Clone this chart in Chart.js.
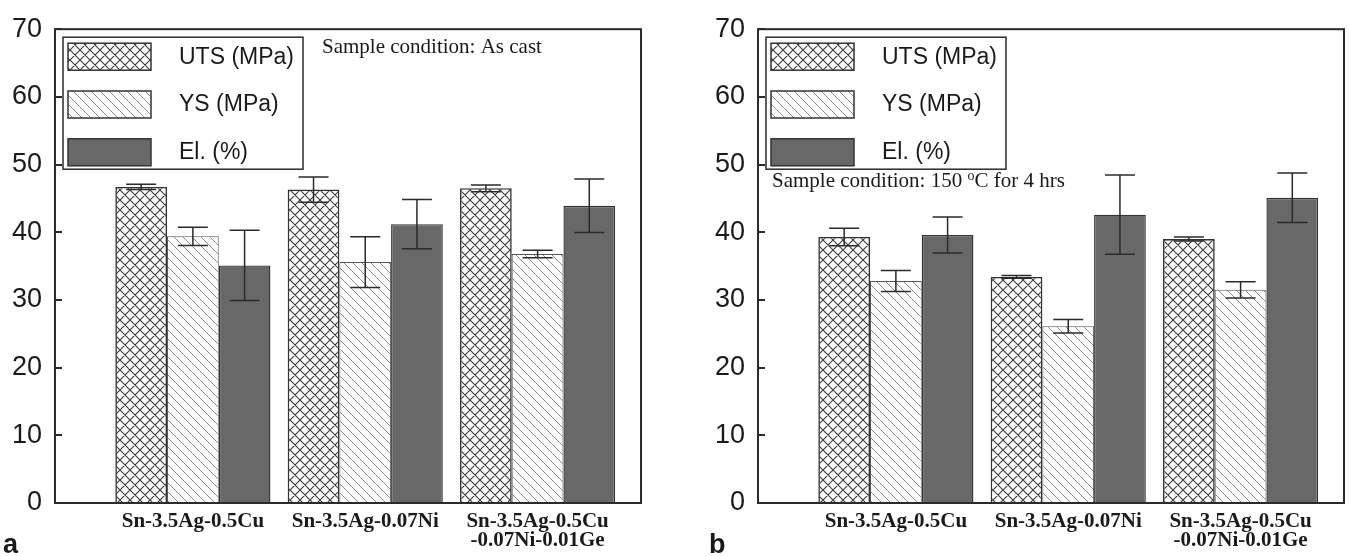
<!DOCTYPE html>
<html>
<head>
<meta charset="utf-8">
<script src="https://cdn.jsdelivr.net/npm/chart.js@4.4.0/dist/chart.umd.min.js"></script>
<style>
  body { margin: 0; background: #fff; }
  #wrap { position: relative; width: 1349px; height: 556px; overflow: hidden; }
  #chartA { position: absolute; left: 0; top: 0; }
  #chartB { position: absolute; left: 703px; top: 0; }
</style>
</head>
<body>
<div id="wrap">
  <canvas id="chartA" width="703" height="556"></canvas>
  <canvas id="chartB" width="646" height="556"></canvas>
</div>
<script>
// Alloys on the x axis (last one wraps onto two lines)
const categories = ['Sn-3.5Ag-0.5Cu', 'Sn-3.5Ag-0.07Ni', ['Sn-3.5Ag-0.5Cu', '-0.07Ni-0.01Ge']];
const seriesNames = ['UTS (MPa)', 'YS (MPa)', 'El. (%)'];
const yTicks = [0, 10, 20, 30, 40, 50, 60, 70];

// (a) as cast
const utsCast = [46.7, 46.3, 46.5];
const utsCastErr = [0.4, 1.85, 0.5];
const ysCast = [39.4, 35.6, 36.8];
const ysCastErr = [1.35, 3.75, 0.55];
const elCast = [35.1, 41.2, 43.9];
const elCastErr = [5.2, 3.65, 3.95];

// (b) 150 C for 4 hrs
const utsAged = [39.3, 33.4, 39.0];
const utsAgedErr = [1.3, 0.2, 0.3];
const ysAged = [32.8, 26.1, 31.5];
const ysAgedErr = [1.55, 1.0, 1.2];
const elAged = [39.6, 42.6, 45.1];
const elAgedErr = [2.65, 5.85, 3.65];

const conditionA = [['Sample condition: As cast', false]];
const conditionB = [['Sample condition: 150 ', false], ['o', true], ['C for 4 hrs', false]];

const SANS = '"Liberation Sans", Arial, Helvetica, sans-serif';
const SERIF = '"Liberation Serif", "Times New Roman", Times, serif';
const INK = '#2b2b2b';

// hatch fills
function hatch(size, color, width, cross) {
  const c = document.createElement('canvas');
  c.width = size; c.height = size;
  const g = c.getContext('2d');
  g.fillStyle = '#fff';
  g.fillRect(0, 0, size, size);
  g.strokeStyle = color;
  g.lineWidth = width;
  g.beginPath();
  for (let k = -size; k <= size; k += size) {
    g.moveTo(k, 0); g.lineTo(k + size, size);
    if (cross) { g.moveTo(k, size); g.lineTo(k + size, 0); }
  }
  g.stroke();
  return g.createPattern(c, 'repeat');
}
const crossFill = hatch(10, '#3a3a3a', 1.1, true);
const lineFill = hatch(9, '#8c8c8c', 1, false);
const solidFill = '#686868';

const fills = [crossFill, lineFill, solidFill];
const borders = [['#333', 1.6], ['#555', 1], ['#333', 1.4]];

const errorBars = {
  id: 'errorBars',
  afterDatasetsDraw(chart) {
    const ctx = chart.ctx, y = chart.scales.y;
    ctx.save();
    ctx.strokeStyle = INK;
    ctx.lineWidth = 1.5;
    chart.data.datasets.forEach((ds, i) => {
      chart.getDatasetMeta(i).data.forEach((bar, j) => {
        const v = ds.data[j].y, e = ds.errors[j];
        const top = y.getPixelForValue(v + e), bot = y.getPixelForValue(v - e);
        ctx.beginPath();
        ctx.moveTo(bar.x, top); ctx.lineTo(bar.x, bot);
        ctx.moveTo(bar.x - 15, top); ctx.lineTo(bar.x + 15, top);
        ctx.moveTo(bar.x - 15, bot); ctx.lineTo(bar.x + 15, bot);
        ctx.stroke();
      });
    });
    ctx.restore();
  }
};

// box around the plot plus inward tick marks
const frame = {
  id: 'frame',
  afterDraw(chart) {
    const ctx = chart.ctx, a = chart.chartArea, y = chart.scales.y;
    ctx.save();
    ctx.strokeStyle = INK;
    ctx.lineWidth = 2;
    ctx.strokeRect(a.left, a.top, a.right - a.left, a.bottom - a.top);
    ctx.beginPath();
    y.ticks.forEach(t => {
      const py = Math.round(y.getPixelForValue(t.value));
      ctx.moveTo(a.left, py); ctx.lineTo(a.left + 7, py);
    });
    ctx.stroke();
    ctx.restore();
  }
};

// boxed legend and condition note inside the plot, panel letter below
const notes = {
  id: 'notes',
  afterDraw(chart) {
    const ctx = chart.ctx, a = chart.chartArea, o = chart.options.plugins.notes;
    const bx = a.left + 8, by = a.top + 8;
    ctx.save();
    ctx.fillStyle = '#fff';
    ctx.fillRect(bx, by, 240, 132);
    ctx.strokeStyle = INK;
    ctx.lineWidth = 1.5;
    ctx.strokeRect(bx, by, 240, 132);
    chart.data.datasets.forEach((ds, i) => {
      const sy = by + 6 + i * 47.8;
      ctx.fillStyle = ds.backgroundColor;
      ctx.fillRect(bx + 5, sy, 83, 27);
      ctx.strokeStyle = '#333';
      ctx.lineWidth = 1.5;
      ctx.strokeRect(bx + 5, sy, 83, 27);
      ctx.fillStyle = '#1a1a1a';
      ctx.font = '23px ' + SANS;
      ctx.textBaseline = 'middle';
      ctx.fillText(ds.label, bx + 116, sy + 14);
    });
    let x = a.left + o.noteX;
    ctx.fillStyle = '#1a1a1a';
    ctx.textBaseline = 'alphabetic';
    o.note.forEach(([txt, sup]) => {
      ctx.font = (sup ? '14px ' : '21px ') + SERIF;
      ctx.fillText(txt, x, o.noteY - (sup ? 7 : 0));
      x += ctx.measureText(txt).width;
    });
    ctx.font = 'bold 27px ' + SANS;
    ctx.fillText(o.letter, o.letterX, 553);
    ctx.restore();
  }
};

function makeChart(id, values, errors, padRight, note, noteX, noteY, letter, letterX) {
  const datasets = seriesNames.map((name, i) => ({
    label: name,
    data: values[i].map((v, j) => ({ x: j, y: v })),
    errors: errors[i],
    backgroundColor: fills[i],
    borderColor: borders[i][0],
    borderWidth: borders[i][1]
  }));
  return new Chart(document.getElementById(id), {
    type: 'bar',
    data: { datasets },
    plugins: [errorBars, frame, notes],
    options: {
      responsive: false,
      animation: false,
      layout: { padding: { left: 0, right: padRight, top: 18, bottom: 0 } },
      datasets: { bar: { categoryPercentage: 0.9, barPercentage: 1 } },
      plugins: {
        legend: { display: false },
        tooltip: { enabled: false },
        notes: { note, noteX, noteY, letter, letterX }
      },
      scales: {
        x: {
          type: 'linear', min: -0.8, max: 2.6, offset: false,
          grid: { display: false, drawTicks: false, offset: false },
          border: { display: false },
          afterBuildTicks: s => { s.ticks = categories.map((c, i) => ({ value: i })); },
          afterFit: s => { s.height = 53; },
          ticks: {
            autoSkip: false, maxRotation: 0, padding: 9, color: '#1a1a1a',
            font: { family: SERIF, size: 21, weight: 'bold', lineHeight: 0.92 },
            callback: v => categories[v]
          }
        },
        y: {
          min: yTicks[0], max: yTicks[yTicks.length - 1],
          grid: { display: false, drawTicks: false },
          border: { display: false },
          afterBuildTicks: s => { s.ticks = yTicks.map(v => ({ value: v })); },
          afterFit: s => { s.width = 55; },
          ticks: { padding: 13, color: '#1a1a1a', font: { family: SANS, size: 27 } }
        }
      }
    }
  });
}

makeChart('chartA', [utsCast, ysCast, elCast], [utsCastErr, ysCastErr, elCastErr],
  62, conditionA, 267, 53, 'a', 3);
makeChart('chartB', [utsAged, ysAged, elAged], [utsAgedErr, ysAgedErr, elAgedErr],
  5, conditionB, 14, 187, 'b', 6);
</script>
</body>
</html>
